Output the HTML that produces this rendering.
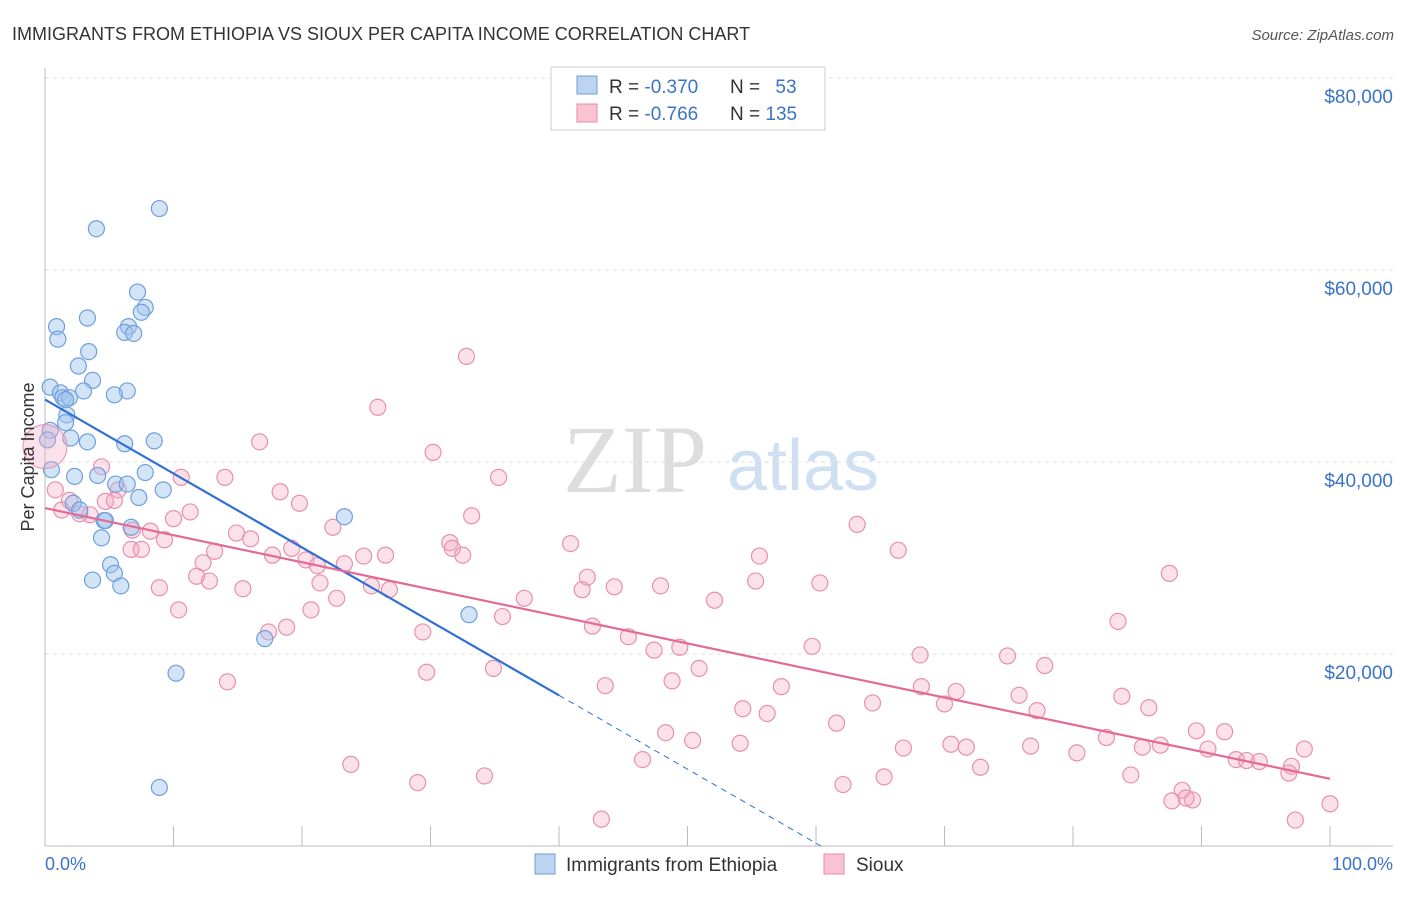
<!DOCTYPE html>
<html><head><meta charset="utf-8"><style>
body{margin:0;background:#fff;font-family:"Liberation Sans",sans-serif;}
</style></head><body>
<svg width="1406" height="892" xmlns="http://www.w3.org/2000/svg" id="chart">
<text x="12" y="40" font-size="18" fill="#333">IMMIGRANTS FROM ETHIOPIA VS SIOUX PER CAPITA INCOME CORRELATION CHART</text>
<text x="1394" y="40" font-size="15" fill="#555" font-style="italic" text-anchor="end">Source: ZipAtlas.com</text>
<g>
<text x="635" y="492" font-size="96" fill="#ddd" font-family="Liberation Serif" text-anchor="middle">ZIP</text>
<text x="803" y="490" font-size="72" fill="#cfe0f3" text-anchor="middle">atlas</text>
</g>
<g id="grid"></g><g id="axes"></g><g id="pts"></g><g id="trend"></g>
<text transform="translate(34,457) rotate(-90)" font-size="18" fill="#333" text-anchor="middle">Per Capita Income</text>
<text x="45" y="870" font-size="18" fill="#3b73c8">0.0%</text>
<text x="1393" y="870" font-size="18" fill="#3b73c8" text-anchor="end">100.0%</text>
<g>
<rect x="551" y="67" width="274" height="63" fill="#fff" stroke="#ccc"/>
<rect x="577" y="76" width="20" height="18" fill="#bcd4f2" stroke="#6e9fdc"/>
<rect x="577" y="104" width="20" height="18" fill="#f8c4d3" stroke="#e88aa8"/>
<text x="609" y="93" font-size="19" fill="#333">R = <tspan fill="#3b73c8">-0.370</tspan></text>
<text x="730" y="93" font-size="19" fill="#333">N = <tspan fill="#3b73c8" dx="10">53</tspan></text>
<text x="609" y="120" font-size="19" fill="#333">R = <tspan fill="#3b73c8">-0.766</tspan></text>
<text x="730" y="120" font-size="19" fill="#333">N = <tspan fill="#3b73c8">135</tspan></text>
</g>
<g>
<rect x="535" y="854" width="20" height="20" fill="#bcd4f2" stroke="#6e9fdc"/>
<text x="566" y="871" font-size="19" fill="#333">Immigrants from Ethiopia</text>
<rect x="824" y="854" width="20" height="20" fill="#f8c4d3" stroke="#e88aa8"/>
<text x="856" y="871" font-size="19" fill="#333">Sioux</text>
</g>
</svg>
<script>
const yTicks=[20000,40000,60000,80000];
const yTickLabels=["$20,000","$40,000","$60,000","$80,000"];
const xTicks=[0,10,20,30,40,50,60,70,80,90,100];
const blueX=[8.9,4.0,7.2,7.8,7.5,3.3,0.9,6.5,6.2,6.9,1.0,3.4,2.6,3.7,0.4,1.2,6.4,3.0,5.4,1.4,1.9,1.6,1.7,1.6,2.0,6.2,8.5,3.3,0.4,2.3,7.8,4.1,5.5,9.2,6.4,7.3,2.2,6.7,4.6,4.7,23.3,4.4,5.1,5.4,3.7,5.9,17.1,33.0,10.2,8.9,0.2,0.5,2.7];
const blueY=[66.4,64.3,57.7,56.1,55.6,55.0,54.1,54.1,53.5,53.4,52.8,51.5,50.0,48.5,47.8,47.2,47.4,47.4,47.0,46.7,46.7,46.5,44.9,44.1,42.5,41.9,42.2,42.1,43.3,38.5,38.9,38.6,37.7,37.1,37.7,36.3,35.7,33.2,33.9,33.9,34.3,32.1,29.3,28.4,27.7,27.1,21.6,24.1,18.0,6.1,42.3,39.2,35.0];
const pinkX=[32.8,25.9,16.7,30.2,35.3,10.6,14.0,4.4,0.8,1.9,5.7,18.3,19.8,4.7,1.3,3.5,5.4,10.0,11.3,2.7,6.8,8.2,14.9,16.0,22.4,33.2,6.7,7.5,9.3,13.2,17.7,19.2,20.3,21.2,23.3,24.8,26.5,31.5,31.7,32.5,40.9,63.2,66.4,55.6,12.3,11.8,12.8,21.4,25.4,26.8,42.2,41.8,44.3,47.9,55.3,60.3,87.5,8.9,15.4,22.7,37.3,52.1,10.4,20.7,35.6,42.6,83.5,17.4,18.8,29.4,45.4,47.4,49.4,59.7,68.1,74.9,34.9,50.9,77.8,29.7,48.8,43.6,57.3,14.2,68.2,70.9,75.8,83.8,64.4,70.0,54.3,56.2,77.2,85.9,61.6,48.3,50.4,54.1,66.8,70.5,71.7,76.7,80.3,82.6,85.4,86.8,89.6,91.8,90.5,92.7,93.5,94.5,97.0,96.8,98.0,23.8,34.2,29.0,46.5,62.1,65.3,72.8,84.5,88.5,87.7,89.3,88.8,97.3,100,43.3];
const pinkY=[51.0,45.7,42.1,41.0,38.4,38.4,38.4,39.5,37.1,36.0,37.1,36.9,35.7,35.9,35.0,34.5,36.0,34.1,34.8,34.6,32.9,32.8,32.6,32.0,33.2,34.4,30.9,30.9,31.9,30.7,30.3,31.0,29.8,29.2,29.4,30.2,30.3,31.6,31.0,30.3,31.5,33.5,30.8,30.2,29.5,28.1,27.6,27.4,27.1,26.7,28.0,26.7,27.0,27.1,27.6,27.4,28.4,26.9,26.8,25.8,25.8,25.6,24.6,24.6,23.9,22.9,23.4,22.3,22.8,22.3,21.8,20.4,20.7,20.8,19.9,19.8,18.5,18.5,18.8,18.1,17.2,16.7,16.6,17.1,16.6,16.1,15.7,15.6,14.9,14.8,14.3,13.8,14.1,14.4,12.8,11.8,11.0,10.7,10.2,10.6,10.3,10.4,9.7,11.3,10.3,10.5,12.0,11.9,10.1,9.0,8.9,8.8,8.3,7.6,10.1,8.5,7.3,6.6,9.0,6.4,7.2,8.2,7.4,5.8,4.7,4.8,5.0,2.7,4.4,2.8];
const blueTrend=[46.5,-0.77]; // intercept (k$), slope per %
const pinkTrend=[35.2,-0.282];
const NS="http://www.w3.org/2000/svg";
const sx=v=>45+v*12.85, sy=k=>846-k*9.6;
function mk(tag,attrs,parent){const e=document.createElementNS(NS,tag);for(const k in attrs)e.setAttribute(k,attrs[k]);document.getElementById(parent).appendChild(e);return e;}
yTicks.forEach((t,i)=>{
 const y=sy(t/1000);
 const g=mk('line',{x1:45,x2:1393,y1:y,y2:y,stroke:'#ddd','stroke-dasharray':'4,4'},'grid');
 
 
 const l=mk('text',{x:1393,y:y+25,'font-size':19,fill:'#3b73c8','text-anchor':'end'},'grid');
 l.textContent=yTickLabels[i];
 
 
});
const ax=mk('line',{x1:45,x2:1393,y1:846,y2:846,stroke:'#bbb'},'axes');


const ay=mk('line',{x1:45,x2:45,y1:68,y2:846,stroke:'#bbb'},'axes');


xTicks.forEach(t=>{
 const e=mk('line',{x1:sx(t),x2:sx(t),y1:826,y2:846,stroke:'#bbb'},'axes');
 
 
});
pinkX.forEach((x,i)=>{
 const c=mk('circle',{cx:sx(x),cy:sy(pinkY[i]),r:8,fill:'rgba(244,170,195,0.35)',stroke:'#e890ad','stroke-width':1.2},'pts');
 
 
});
blueX.forEach((x,i)=>{
 const c=mk('circle',{cx:sx(x),cy:sy(blueY[i]),r:8,fill:'rgba(160,195,238,0.45)',stroke:'#6e9fdc','stroke-width':1.2},'pts');
 
 
});
const big=mk('circle',{cx:sx(0),cy:sy(41.6),r:22,fill:'rgba(244,170,195,0.35)',stroke:'#e890ad'},'pts');


const bt=x=>blueTrend[0]+blueTrend[1]*x, pt=x=>pinkTrend[0]+pinkTrend[1]*x;
const b1=mk('line',{x1:sx(0),y1:sy(bt(0)),x2:sx(40),y2:sy(bt(40)),stroke:'#2f6fd6','stroke-width':2.2},'trend');


const xe=-blueTrend[0]/blueTrend[1];
const b2=mk('line',{x1:sx(40),y1:sy(bt(40)),x2:sx(xe),y2:sy(0),stroke:'#2f6fd6','stroke-width':1,'stroke-dasharray':'6,5'},'trend');


const p1=mk('line',{x1:sx(0),y1:sy(pt(0)),x2:sx(100),y2:sy(pt(100)),stroke:'#e46a96','stroke-width':2.2},'trend');


</script>
</body></html>
